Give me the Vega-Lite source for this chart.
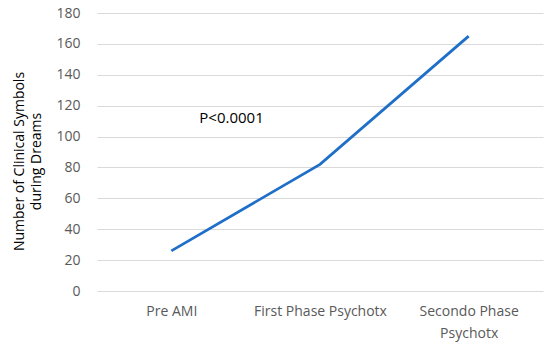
{
  "$schema": "https://vega.github.io/schema/vega-lite/v6.json",
  "width": 446,
  "height": 278,
  "autosize": "none",
  "padding": {"left": 97, "top": 13, "right": 7, "bottom": 58},
  "background": "white",
  "config": {
    "view": {"stroke": null},
    "font": "Open Sans"
  },
  "datasets": {
    "series": [
      {"phase": "Pre AMI", "value": 26},
      {"phase": "First Phase Psychotx", "value": 82},
      {"phase": "Secondo Phase Psychotx", "value": 165}
    ],
    "note": [
      {"phase": "Pre AMI", "value": 112, "label": "P<0.0001"}
    ]
  },
  "encoding": {
    "x": {
      "field": "phase",
      "type": "nominal",
      "sort": null,
      "scale": {"domain": ["Pre AMI", "First Phase Psychotx", "Secondo Phase Psychotx"], "paddingInner": 0, "paddingOuter": 0},
      "axis": {
        "title": null,
        "labelAngle": 0,
        "ticks": false,
        "domain": false,
        "grid": false,
        "labelPadding": 13,
        "labelFontSize": 14,
        "labelLineHeight": 22,
        "labelColor": "#595959",
        "labelFont": "Open Sans",
        "labelExpr": "datum.label == 'Secondo Phase Psychotx' ? ['Secondo Phase', 'Psychotx'] : datum.label"
      }
    },
    "y": {
      "field": "value",
      "type": "quantitative",
      "scale": {"domain": [0, 180], "nice": false},
      "axis": {
        "values": [0, 20, 40, 60, 80, 100, 120, 140, 160, 180],
        "title": ["Number of Clinical  Symbols", "during Dreams"],
        "titleFontSize": 14,
        "titleLineHeight": 17,
        "titleFontWeight": "normal",
        "titleColor": "#000000",
        "titleFont": "Open Sans",
        "titlePadding": 12,
        "titleY": 148,
        "ticks": false,
        "domain": false,
        "labelPadding": 17,
        "labelFontSize": 14,
        "labelColor": "#595959",
        "gridColor": "#d9d9d9",
        "gridWidth": 1
      }
    }
  },
  "layer": [
    {
      "data": {"name": "series"},
      "mark": {"type": "line", "color": "#1f6fc8", "strokeWidth": 2.8}
    },
    {
      "data": {"name": "note"},
      "mark": {"type": "text", "align": "left", "baseline": "middle", "dx": 28, "fontSize": 15, "color": "#000000", "font": "Open Sans"},
      "encoding": {"text": {"field": "label"}}
    }
  ]
}
